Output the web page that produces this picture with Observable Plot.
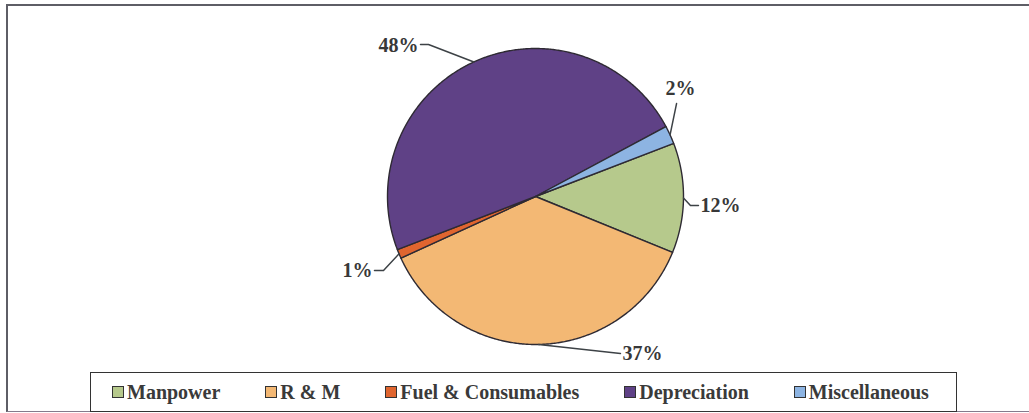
<!DOCTYPE html>
<html>
<head>
<meta charset="utf-8">
<script src="https://cdn.jsdelivr.net/npm/d3@7"></script>
<script src="https://cdn.jsdelivr.net/npm/@observablehq/plot@0.6"></script>
<style>
  body { margin: 0; background: #fff; }
  #chart { position: relative; width: 1029px; height: 413px; overflow: hidden;
           font-family: "Liberation Serif", "Times New Roman", serif; }
  #frame { position: absolute; left: 6px; top: 4px; width: 1040px; height: 405px;
           border-top: 2px solid #5e5e66; border-left: 2px solid #5e5e66;
           border-bottom: 1px solid #857a8c; }
  #chart svg { position: absolute; left: 0; top: 0; background: transparent; }
  #legend { position: absolute; left: 90px; top: 372px; width: 867px; height: 40px;
            box-sizing: border-box; border: 1.5px solid #333; background: #fff;
            display: flex; align-items: center; padding-left: 21px; gap: 45px; }
  .item { display: flex; align-items: center; font-weight: bold; font-size: 20px;
          color: #3a3a3a; white-space: nowrap; line-height: 1; }
  .sw { width: 10px; height: 10px; border: 1.5px solid #333; margin-right: 3px; }
</style>
</head>
<body>
<div id="chart">
  <div id="frame"></div>
  <div id="legend"></div>
</div>
<script>
// Cost shares (percent)
const categories = ["Manpower", "R & M", "Fuel & Consumables", "Depreciation", "Miscellaneous"];
const shares = [12, 37, 1, 48, 2];
const colors = ["#b6c98c", "#f3b874", "#e0652f", "#5f4186", "#8db4e2"];

// First slice begins this many degrees clockwise from 12 o'clock
const startAngle = 69;

// Pie placement in pixels
const cx = 535, cy = 196, r = 148;

// Label placement in unit-circle coordinates (pie radius = 1)
const labelLayout = [
  {x: 1.115, y: -0.061, anchor: "start",  path: [[1.047, -0.061], [1.101, -0.061]]},
  {x: 0.588, y: -1.061, anchor: "start",  path: [[0.574, -1.061]]},
  {x: -1.101, y: -0.50, anchor: "end",    path: [[-1.027, -0.50], [-1.088, -0.50]]},
  {x: -0.791, y: 1.020, anchor: "end",    path: [[-0.723, 1.027], [-0.777, 1.027]]},
  {x: 0.980, y: 0.730, anchor: "middle",  path: [[0.953, 0.628]]}
];

const total = d3.sum(shares);
const rad = (deg) => deg * Math.PI / 180;
const polar = (deg) => ({x: Math.sin(rad(deg)), y: Math.cos(rad(deg))});

// Slice outlines: centre -> arc -> centre
const slicePts = [];
const leaderPts = [];
const labels = [];
let a = startAngle;
categories.forEach((cat, i) => {
  const a0 = a, a1 = a + shares[i] / total * 360;
  slicePts.push({cat, x: 0, y: 0});
  const steps = Math.max(2, Math.ceil((a1 - a0) / 0.5));
  for (let k = 0; k <= steps; k++) {
    const p = polar(a0 + (a1 - a0) * k / steps);
    slicePts.push({cat, x: p.x, y: p.y});
  }
  slicePts.push({cat, x: 0, y: 0});

  const mid = polar((a0 + a1) / 2);
  const lay = labelLayout[i];
  leaderPts.push({cat, x: mid.x, y: mid.y});
  lay.path.forEach(([x, y]) => leaderPts.push({cat, x, y}));
  labels.push({cat, x: lay.x, y: lay.y, anchor: lay.anchor, text: `${shares[i]}%`});
  a = a1;
});

const textStyle = {x: "x", y: "y", text: "text", fontSize: 20, fontWeight: "bold",
  fontFamily: "Liberation Serif, Times New Roman, serif", fill: "#383838"};

const plot = Plot.plot({
  width: 1029,
  height: 413,
  margin: 0,
  style: {background: "transparent", overflow: "visible"},
  x: {domain: [-1, 1], range: [cx - r, cx + r], axis: null},
  y: {domain: [-1, 1], range: [cy + r, cy - r], axis: null},
  color: {domain: categories, range: colors},
  marks: [
    Plot.line(slicePts, {x: "x", y: "y", z: "cat", fill: "cat", stroke: "#2e2a33",
      strokeWidth: 1.4, strokeLinejoin: "round"}),
    Plot.line(leaderPts, {x: "x", y: "y", z: "cat", stroke: "#3d4246", strokeWidth: 1.5}),
    Plot.text(labels, {...textStyle, filter: (d) => d.anchor === "start", textAnchor: "start"}),
    Plot.text(labels, {...textStyle, filter: (d) => d.anchor === "end", textAnchor: "end"}),
    Plot.text(labels, {...textStyle, filter: (d) => d.anchor === "middle", textAnchor: "middle"})
  ]
});
document.getElementById("chart").insertBefore(plot, document.getElementById("legend"));

// Legend
const legend = document.getElementById("legend");
categories.forEach((cat, i) => {
  const item = document.createElement("div");
  item.className = "item";
  const sw = document.createElement("div");
  sw.className = "sw";
  sw.style.background = colors[i];
  const label = document.createElement("span");
  label.textContent = cat;
  item.append(sw, label);
  legend.append(item);
});
</script>
</body>
</html>
